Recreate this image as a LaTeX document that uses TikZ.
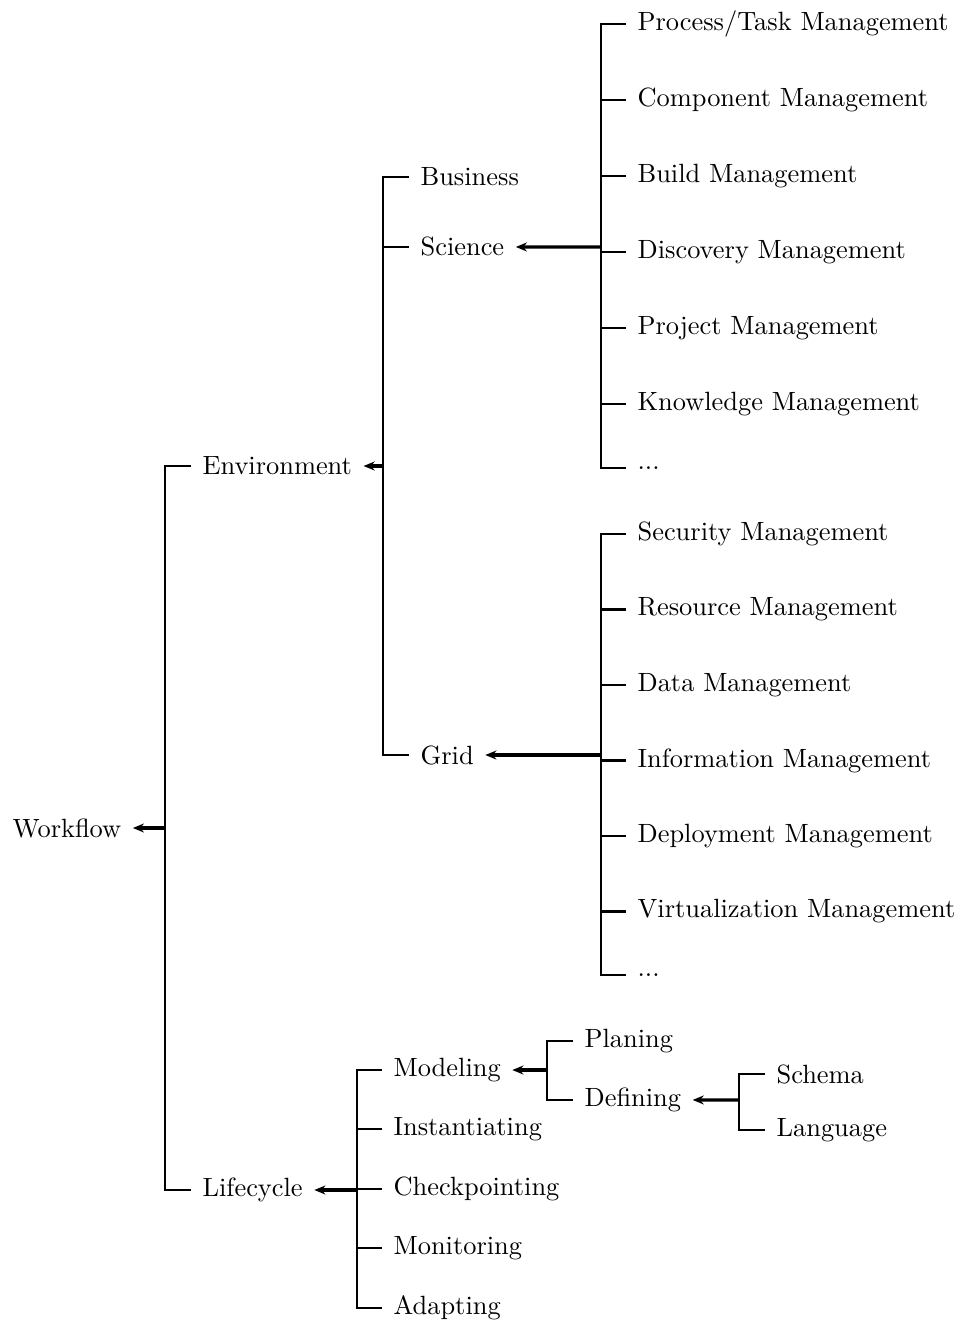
\documentclass[tikz,border=0pt]{standalone}
\usetikzlibrary{arrows.meta, positioning}

\begin{document}
\begin{tikzpicture}[
    x=0.3788pt, y=-0.3788pt,
    leaf/.style={anchor=west, inner xsep=4.2pt},
    fork/.style={thick},
    arrow/.style={-{Stealth[length=4.2pt, width=3.4pt]}, line width=1.2pt}
  ]
    \useasboundingbox (0,0) rectangle (962,1323);

    \node[leaf] (workflow) at (1,828) {Workflow};
    \coordinate (wffork) at (165,828);
    \node[leaf] (env) at (191,466) {Environment};
    \node[leaf] (life) at (191,1190) {Lifecycle};

    \coordinate (envfork) at (383,466);
    \node[leaf] (bus) at (409,177) {Business};
    \node[leaf, below=26.5pt of bus.west, anchor=west] (sci) {Science};
    \node[leaf] (grid) at (409,755) {Grid};

    \coordinate (scifork) at (601,247);
    \node[leaf] (proc) at (626,24) {Process/Task Management};
    \node[leaf, below=28.8pt of proc.west, anchor=west] (comp) {Component Management};
    \node[leaf, below=28.8pt of comp.west, anchor=west] (build) {Build Management};
    \node[leaf, below=28.8pt of build.west, anchor=west] (disc) {Discovery Management};
    \node[leaf, below=28.8pt of disc.west, anchor=west] (proj) {Project Management};
    \node[leaf, below=28.8pt of proj.west, anchor=west] (know) {Knowledge Management};
    \node[leaf, below=24.2pt of know.west, anchor=west] (scimore) {...};

    \coordinate (gridfork) at (601,755);
    \node[leaf] (sec) at (626,534) {Security Management};
    \node[leaf, below=28.6pt of sec.west, anchor=west] (res) {Resource Management};
    \node[leaf, below=28.6pt of res.west, anchor=west] (data) {Data Management};
    \node[leaf, below=28.6pt of data.west, anchor=west] (info) {Information Management};
    \node[leaf, below=28.6pt of info.west, anchor=west] (depl) {Deployment Management};
    \node[leaf, below=28.6pt of depl.west, anchor=west] (virt) {Virtualization Management};
    \node[leaf, below=23.9pt of virt.west, anchor=west] (gridmore) {...};

    \coordinate (lifefork) at (357,1190);
    \node[leaf] (model) at (382,1070) {Modeling};
    \node[leaf, below=22.5pt of model.west, anchor=west] (inst) {Instantiating};
    \node[leaf, below=22.5pt of inst.west, anchor=west] (check) {Checkpointing};
    \node[leaf, below=22.5pt of check.west, anchor=west] (mon) {Monitoring};
    \node[leaf, below=22.5pt of mon.west, anchor=west] (adapt) {Adapting};

    \coordinate (modelfork) at (547,1070);
    \node[leaf] (plan) at (573,1041) {Planing};
    \node[leaf, below=22.3pt of plan.west, anchor=west] (def) {Defining};

    \coordinate (deffork) at (739,1100);
    \node[leaf] (schema) at (765,1074) {Schema};
    \node[leaf, below=21.2pt of schema.west, anchor=west] (lang) {Language};

    % forks
    \draw[fork] (env.west) -| (wffork) |- (life.west);
    \draw[fork] (bus.west) -| (envfork) |- (grid.west);
    \draw[fork] (sci.west) -- (sci.west -| envfork);
    \draw[fork] (proc.west) -| (scifork) |- (scimore.west);
    \foreach \n in {comp, build, disc, proj, know}
      \draw[fork] (\n.west) -- (\n.west -| scifork);
    \draw[fork] (sec.west) -| (gridfork) |- (gridmore.west);
    \foreach \n in {res, data, info, depl, virt}
      \draw[fork] (\n.west) -- (\n.west -| gridfork);
    \draw[fork] (model.west) -| (lifefork) |- (adapt.west);
    \foreach \n in {inst, check, mon}
      \draw[fork] (\n.west) -- (\n.west -| lifefork);
    \draw[fork] (plan.west) -| (modelfork) |- (def.west);
    \draw[fork] (schema.west) -| (deffork) |- (lang.west);

    % arrows to parents
    \draw[arrow] (wffork) -- (workflow);
    \draw[arrow] (envfork) -- (env);
    \draw[arrow] (scifork) -- (sci);
    \draw[arrow] (gridfork) -- (grid);
    \draw[arrow] (lifefork) -- (life);
    \draw[arrow] (modelfork) -- (model);
    \draw[arrow] (deffork) -- (def);
  \end{tikzpicture}
\end{document}
